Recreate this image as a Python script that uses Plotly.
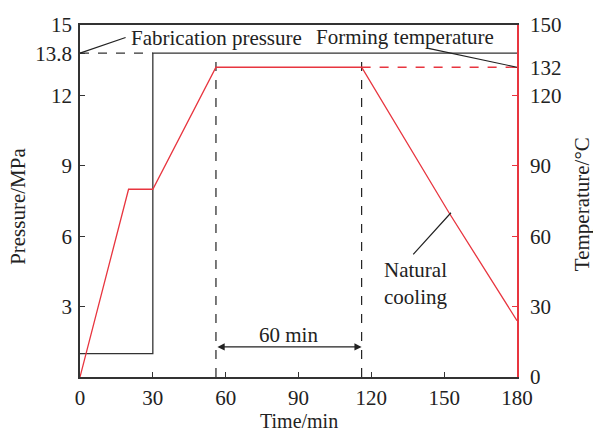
import plotly.graph_objects as go

# Data
p_time = [0, 30, 30, 180]
p_val = [1, 1, 13.8, 13.8]
p_dash_time = [0, 30]
p_dash_val = [13.8, 13.8]

t_time = [0, 20, 30, 56, 116, 152, 180]
t_val = [0, 80, 80, 132, 132, 70, 24]
t_dash_time = [116, 180]
t_dash_val = [132, 132]

hold_start, hold_end = 56, 116

x_ticks = [0, 30, 60, 90, 120, 150, 180]
y_ticks = [3, 6, 9, 12, 13.8, 15]
y_ticktext = ["3", "6", "9", "12", "13.8", "15"]
y2_ticks = [0, 30, 60, 90, 120, 132, 150]

FONT = "Liberation Serif"
FS = 21
INK = "#222222"
RED = "#e8353f"
fig = go.Figure()

fig.add_trace(go.Scatter(x=p_time, y=p_val, mode="lines",
                         line=dict(color="#333333", width=1.3), showlegend=False))
fig.add_trace(go.Scatter(x=p_dash_time, y=p_dash_val, mode="lines",
                         line=dict(color="#333333", width=1.3, dash="dash"), showlegend=False))
for xv in (hold_start, hold_end):
    fig.add_trace(go.Scatter(x=[xv, xv], y=[0, 13.8], mode="lines",
                             line=dict(color=INK, width=1.2, dash="dash"), showlegend=False))
fig.add_trace(go.Scatter(x=t_time, y=t_val, mode="lines", yaxis="y2",
                         line=dict(color=RED, width=1.3), showlegend=False))
fig.add_trace(go.Scatter(x=t_dash_time, y=t_dash_val, mode="lines", yaxis="y2",
                         line=dict(color=RED, width=1.3, dash="dash"), showlegend=False))

ann = []
# 60 min arrow
ann.append(dict(x=hold_end, y=1.28, ax=hold_start, ay=1.28, xref="x", yref="y",
                axref="x", ayref="y", text="", showarrow=True, arrowhead=2,
                arrowside="end+start", arrowsize=1.2, arrowwidth=1.2, arrowcolor=INK))
ann.append(dict(x=86, y=1.8, xref="x", yref="y", text="60 min", showarrow=False,
                font=dict(family=FONT, size=FS, color=INK)))
# Fabrication pressure
ann.append(dict(x=0, y=13.8, ax=19.4, ay=14.49, xref="x", yref="y", axref="x", ayref="y",
                text="", showarrow=True, arrowhead=0, arrowwidth=1.2, arrowcolor=INK))
ann.append(dict(x=20.0, y=14.45, xref="x", yref="y", text="Fabrication pressure",
                showarrow=False, xanchor="left", font=dict(family=FONT, size=FS, color=INK)))
# Forming temperature
ann.append(dict(x=180, y=132, ax=142.9, ay=140.2, xref="x", yref="y2", axref="x", ayref="y2",
                text="", showarrow=True, arrowhead=0, arrowwidth=1.2, arrowcolor=INK))
ann.append(dict(x=171.3, y=144.9, xref="x", yref="y2", text="Forming temperature",
                showarrow=False, xanchor="right", font=dict(family=FONT, size=FS, color=INK)))
# Natural cooling
ann.append(dict(x=152.8, y=70, ax=136.7, ay=51.6, xref="x", yref="y2", axref="x", ayref="y2",
                text="", showarrow=True, arrowhead=0, arrowwidth=1.2, arrowcolor=INK))
ann.append(dict(x=138.2, y=40, xref="x", yref="y2", text="Natural<br>cooling",
                showarrow=False, align="center", font=dict(family=FONT, size=FS, color=INK)))
# Axis titles
ann.append(dict(x=0.501, y=-0.126, xref="paper", yref="paper", text="Time/min",
                showarrow=False, xanchor="center", yanchor="middle", borderpad=0,
                font=dict(family=FONT, size=20, color=INK)))
ann.append(dict(x=-0.142, y=0.486, xref="paper", yref="paper", text="Pressure/MPa",
                showarrow=False, textangle=-90, xanchor="center", yanchor="middle",
                font=dict(family=FONT, size=FS, color=INK)))
ann.append(dict(x=1.148, y=0.49, xref="paper", yref="paper", text="Temperature/°C",
                showarrow=False, textangle=-90, xanchor="center", yanchor="middle",
                font=dict(family=FONT, size=FS, color=INK)))

fig.update_layout(
    width=593, height=432, margin=dict(l=80, r=76, t=25, b=55),
    plot_bgcolor="white", paper_bgcolor="white",
    font=dict(family=FONT, size=FS, color=INK),
    annotations=ann,
    xaxis=dict(range=[0, 180], tickvals=x_ticks, showline=True, linecolor="#333333",
               linewidth=1.5, mirror=True, ticks="inside", ticklen=5, tickcolor="#333333",
               showgrid=False, zeroline=False, automargin=False, ticklabelstandoff=1),
    yaxis=dict(range=[0, 15], tickvals=y_ticks, ticktext=y_ticktext,
               showline=True, linecolor="#333333", linewidth=1.5, ticks="inside", ticklen=5,
               tickcolor="#333333", showgrid=False, zeroline=False, automargin=False,
               ticklabelstandoff=2),
    yaxis2=dict(range=[0, 150], tickvals=y2_ticks, overlaying="y", side="right",
                showline=True, linecolor=RED, linewidth=1.5, ticks="inside", ticklen=5,
                tickcolor=RED, showgrid=False, zeroline=False, automargin=False,
                ticklabelstandoff=7),
)

fig.write_html("out.html")
